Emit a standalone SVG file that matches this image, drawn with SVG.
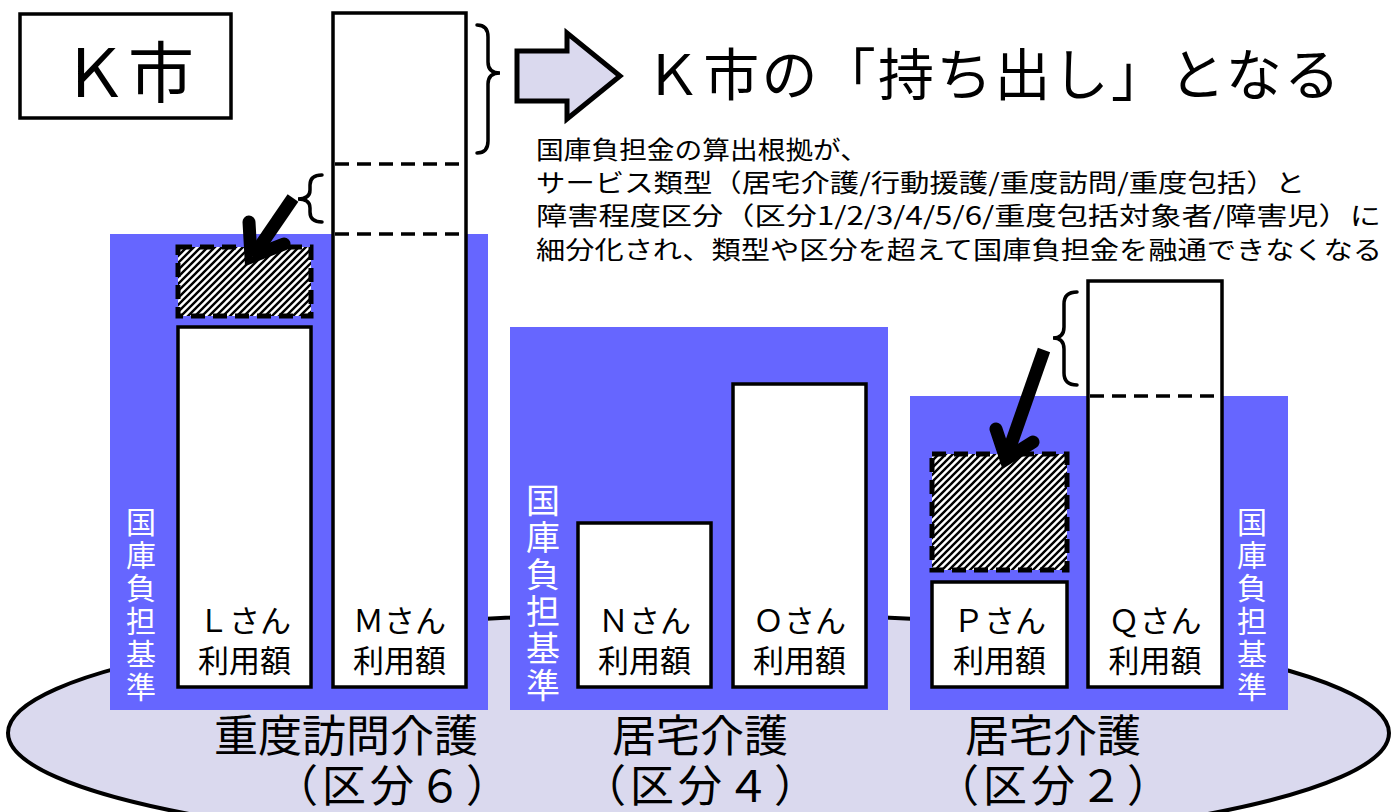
<svg xmlns="http://www.w3.org/2000/svg" width="1398" height="812" viewBox="0 0 1398 812">
<style>
text{font-family:"Noto Sans CJK JP","Noto Sans CJK SC",sans-serif;fill:#000}
.box{fill:#fff;stroke:#000;stroke-width:3.5}
.hatch{fill:url(#hatch);stroke:#000;stroke-width:5;stroke-dasharray:14 8}
.panel{fill:#6666ff}
.dash{stroke:#000;stroke-width:3.5;stroke-dasharray:14 8;fill:none}
.brace{fill:none;stroke:#000;stroke-width:3.5;stroke-linecap:round}
.shaft{stroke:#000;stroke-width:13;fill:none}
.head{stroke:#000;stroke-width:13;fill:none;stroke-linecap:round;stroke-linejoin:miter;stroke-miterlimit:10}
.lbl{font-size:31px;text-anchor:middle}
.vt{fill:#fff;writing-mode:vertical-rl;text-orientation:upright}
.cat{font-size:44px;text-anchor:middle}
.note{font-size:25px}
</style>
<defs>
<pattern id="hatch" patternUnits="userSpaceOnUse" width="7" height="7">
<rect width="7" height="7" fill="#fff"/>
<path d="M-1,8 L8,-1 M-1,1 L1,-1 M6,8 L8,6" stroke="#000" stroke-width="2.4"/>
</pattern>
</defs>

<g id="base">
<ellipse cx="698.5" cy="733" rx="690.5" ry="120" fill="#dad9ee" stroke="#000" stroke-width="4"/>
</g>

<g id="kcity">
<rect x="20" y="14" width="211" height="104" fill="#fff" stroke="#000" stroke-width="3.5"/>
<text x="62" y="97" font-size="66" textLength="132" lengthAdjust="spacingAndGlyphs">Ｋ市</text>
</g>

<g id="panel1">
<rect class="panel" x="110" y="234" width="378" height="476"/>
<text class="vt" x="141" y="507" font-size="30" letter-spacing="3">国庫負担基準</text>
</g>
<g id="panel2">
<rect class="panel" x="510" y="327" width="378" height="383"/>
<text class="vt" x="543" y="483" font-size="34" letter-spacing="3">国庫負担基準</text>
</g>
<g id="panel3">
<rect class="panel" x="910" y="396" width="378" height="314"/>
<text class="vt" x="1252" y="507" font-size="30" letter-spacing="3">国庫負担基準</text>
</g>

<g id="L">
<rect class="hatch" x="178" y="247" width="133" height="69"/>
<rect class="box" x="178" y="327" width="133" height="360"/>
<text class="lbl" x="244.5" y="632">Ｌさん</text>
<text class="lbl" x="244.5" y="672">利用額</text>
</g>
<g id="M">
<rect class="box" x="333" y="13" width="133" height="674"/>
<line class="dash" x1="335" y1="164" x2="464" y2="164"/>
<line class="dash" x1="335" y1="234" x2="464" y2="234"/>
<text class="lbl" x="399.5" y="632">Ｍさん</text>
<text class="lbl" x="399.5" y="672">利用額</text>
</g>
<g id="N">
<rect class="box" x="578" y="523" width="133" height="164"/>
<text class="lbl" x="644.5" y="632">Ｎさん</text>
<text class="lbl" x="644.5" y="672">利用額</text>
</g>
<g id="O">
<rect class="box" x="733" y="384" width="133" height="303"/>
<text class="lbl" x="799.5" y="632">Ｏさん</text>
<text class="lbl" x="799.5" y="672">利用額</text>
</g>
<g id="P">
<rect class="hatch" x="932" y="454" width="135" height="116"/>
<rect class="box" x="932" y="582" width="135" height="105"/>
<text class="lbl" x="999.5" y="632">Ｐさん</text>
<text class="lbl" x="999.5" y="672">利用額</text>
</g>
<g id="Q">
<rect class="box" x="1088" y="281" width="134" height="406"/>
<line class="dash" x1="1090" y1="396" x2="1220" y2="396"/>
<text class="lbl" x="1155" y="632">Ｑさん</text>
<text class="lbl" x="1155" y="672">利用額</text>
</g>

<g id="categories">
<text class="cat" x="346" y="752">重度訪問介護</text>
<text class="cat" x="392" y="802" textLength="236">（区分６）</text>
<text class="cat" x="700" y="752">居宅介護</text>
<text class="cat" x="700" y="802" textLength="236">（区分４）</text>
<text class="cat" x="1053" y="752">居宅介護</text>
<text class="cat" x="1053" y="802" textLength="236">（区分２）</text>
</g>

<g id="title">
<text x="645" y="95" font-size="56" textLength="695">Ｋ市の「持ち出し」となる</text>
</g>

<g id="note">
<text class="note" x="536" y="159" textLength="332" lengthAdjust="spacingAndGlyphs">国庫負担金の算出根拠が、</text>
<text class="note" x="536" y="192" textLength="769" lengthAdjust="spacingAndGlyphs">サービス類型（居宅介護/行動援護/重度訪問/重度包括）と</text>
<text class="note" x="536" y="225" textLength="845" lengthAdjust="spacingAndGlyphs">障害程度区分（区分1/2/3/4/5/6/重度包括対象者/障害児）に</text>
<text class="note" x="536" y="259" textLength="846" lengthAdjust="spacingAndGlyphs">細分化され、類型や区分を超えて国庫負担金を融通できなくなる</text>
</g>

<g id="connectors">
<path class="brace" d="M477,25 Q488,25 488,37 L488,62 Q488,73 500,73 Q488,73 488,84 L488,141 Q488,153 477,153"/>
<path d="M517,51 L567,51 L567,33 L620,76 L567,119 L567,101 L517,101 Z" fill="#dad9ee" stroke="#000" stroke-width="5" stroke-linejoin="miter"/>
<path class="brace" d="M322,175 Q310,175 310,185 L310,190 Q310,199 298,199 Q310,199 310,208 L310,212 Q310,222 322,222"/>
<path class="brace" d="M1077,292 Q1064,292 1064,304 L1064,327 Q1064,338 1053,338 Q1064,338 1064,349 L1064,373 Q1064,385 1077,385"/>
<line class="shaft" x1="293" y1="198" x2="254" y2="255"/>
<polyline class="head" points="249,222 251,257 284,244"/>
<line class="shaft" x1="1044" y1="350" x2="1009" y2="450"/>
<polyline class="head" points="996,429 1006,459 1033,442"/>
</g>
</svg>
